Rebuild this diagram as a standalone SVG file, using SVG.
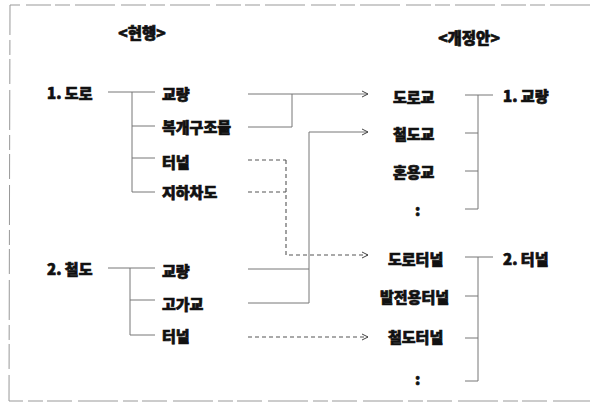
<svg xmlns="http://www.w3.org/2000/svg" width="592" height="414" viewBox="0 0 592 414">
<style>
text{font-family:"Noto Sans CJK KR","Noto Sans",sans-serif;font-weight:900;font-size:15px;fill:#111;stroke:#111;stroke-width:0.7}
.hd{font-size:15.5px}
.c{fill:none;stroke:#777;stroke-width:1}
.d{fill:none;stroke:#555;stroke-width:1.1;stroke-dasharray:4 3}
.fr{fill:none;stroke:#999;stroke-width:1;stroke-dasharray:40 5 15 4 25 6}
</style>
<defs>
<marker id="ah" markerWidth="8" markerHeight="8" refX="7" refY="4" orient="auto" markerUnits="userSpaceOnUse">
<polyline points="1,1 7,4 1,7" fill="none" stroke="#444" stroke-width="1"/>
</marker>
</defs>
<rect width="592" height="414" fill="#fff"/>
<g id="frame">
<polyline class="fr" points="590,5 10,5 9,401 590,401"/>
</g>
<g id="headers">
<text class="hd" x="142" y="39" text-anchor="middle">&lt;현행&gt;</text>
<text class="hd" x="469" y="44" text-anchor="middle">&lt;개정안&gt;</text>
</g>
<g id="connectors">
<path class="c" d="M108,92 H155 M132,92 V192 M132,126 H155 M132,158 H155 M132,192 H155"/>
<path class="c" d="M108,268 H155 M130,268 V335 M130,300 H155 M130,335 H155"/>
<path class="c" d="M248,127 H292 V94" />
<path class="c" d="M248,94 H368" marker-end="url(#ah)"/>
<path class="c" d="M248,269 H309 M248,303 H309" />
<path class="c" d="M309,303 V132 H368" marker-end="url(#ah)"/>
<path class="d" d="M248,160 H286 M248,192 H286"/>
<path class="d" d="M286,160 V255 H368" marker-end="url(#ah)"/>
<path class="d" d="M248,337 H368" marker-end="url(#ah)"/>
<path class="c" d="M465,95 H493 M478,95 V209 M465,133 H478 M465,171 H478 M465,209 H478"/>
<path class="c" d="M465,257 H493 M478,257 V381 M465,296 H478 M465,338 H478 M465,381 H478"/>
</g>
<g id="n-road"><text x="47" y="99">1. 도로</text></g>
<g id="n-road-bridge"><text x="162" y="100">교량</text></g>
<g id="n-cover"><text x="162" y="133">복개구조물</text></g>
<g id="n-road-tunnel"><text x="162" y="168">터널</text></g>
<g id="n-underpass"><text x="162" y="198">지하차도</text></g>
<g id="n-rail"><text x="47" y="275">2. 철도</text></g>
<g id="n-rail-bridge"><text x="162" y="277">교량</text></g>
<g id="n-viaduct"><text x="162" y="310">고가교</text></g>
<g id="n-rail-tunnel"><text x="162" y="342">터널</text></g>
<g id="n-dorogyo"><text x="393" y="103">도로교</text></g>
<g id="n-cheoldogyo"><text x="393" y="140">철도교</text></g>
<g id="n-honyonggyo"><text x="393" y="178">혼용교</text></g>
<g id="n-etc1"><text x="415" y="216">:</text></g>
<g id="n-bridge"><text x="503" y="102">1. 교량</text></g>
<g id="n-dorotunnel"><text x="388" y="265">도로터널</text></g>
<g id="n-powertunnel"><text x="380" y="303">발전용터널</text></g>
<g id="n-railtunnel"><text x="388" y="343">철도터널</text></g>
<g id="n-etc2"><text x="415" y="385">:</text></g>
<g id="n-tunnel"><text x="503" y="265">2. 터널</text></g>
</svg>
